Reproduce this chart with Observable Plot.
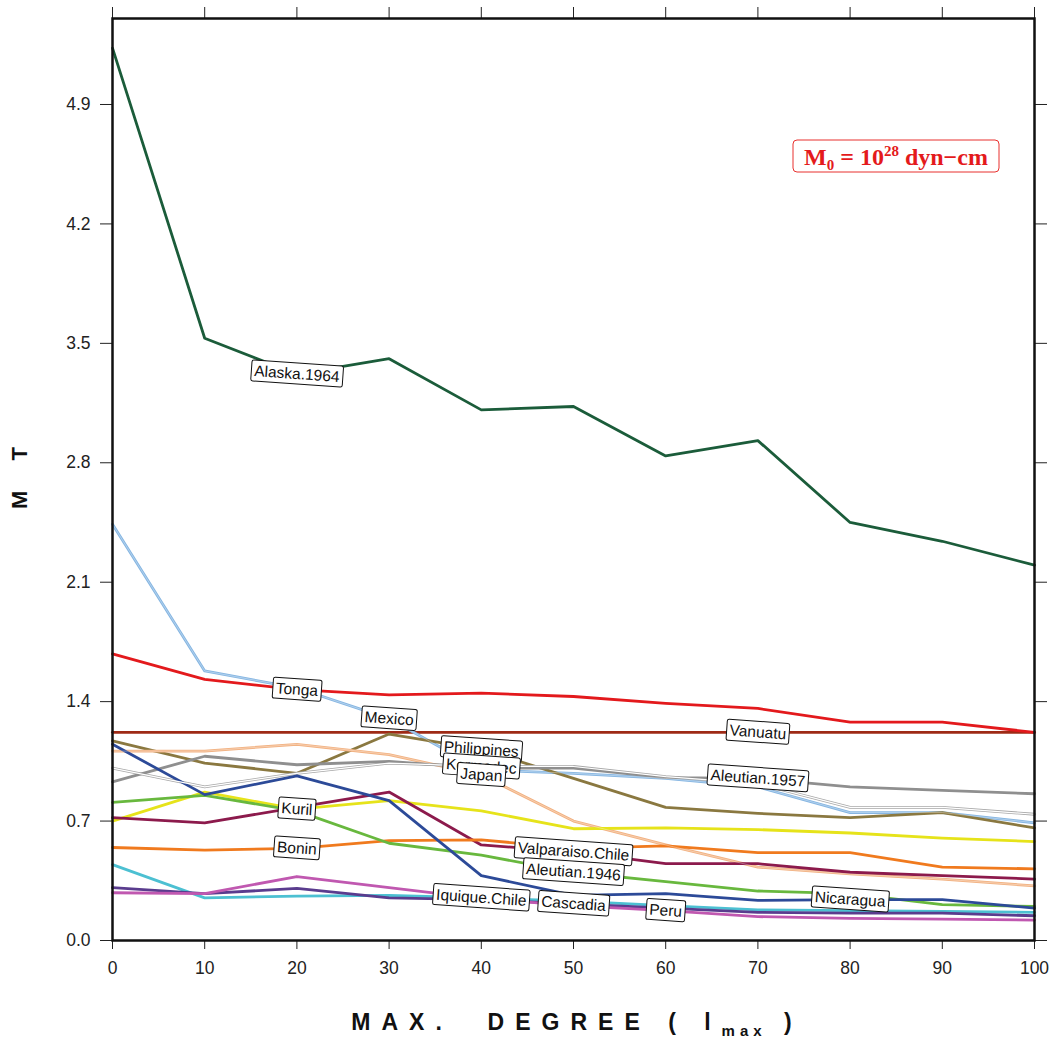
<!DOCTYPE html>
<html><head><meta charset="utf-8">
<script src="https://cdn.jsdelivr.net/npm/d3@7"></script>
<script src="https://cdn.jsdelivr.net/npm/@observablehq/plot@0.6"></script>
<style>
html,body{margin:0;padding:0;background:#fff;}
#chart{position:relative;width:1055px;height:1038px;}
</style></head><body><div id="chart"></div>
<script>
// ---- data ----
const degrees = [0, 10, 20, 30, 40, 50, 60, 70, 80, 90, 100];
const xTicks = [0, 10, 20, 30, 40, 50, 60, 70, 80, 90, 100];
const yTicks = [0.0, 0.7, 1.4, 2.1, 2.8, 3.5, 4.2, 4.9];

const alaska1964   = [5.23, 3.53, 3.32, 3.41, 3.11, 3.13, 2.84, 2.93, 2.45, 2.34, 2.20];
const mexico       = [2.44, 1.58, 1.48, 1.30, 1.00, 0.98, 0.95, 0.90, 0.75, 0.75, 0.69];
const tonga        = [1.68, 1.53, 1.47, 1.44, 1.45, 1.43, 1.39, 1.36, 1.28, 1.28, 1.22];
const vanuatu      = [1.22, 1.22, 1.22, 1.22, 1.22, 1.22, 1.22, 1.22, 1.22, 1.22, 1.22];
const philippines  = [1.17, 1.04, 0.98, 1.21, 1.12, 0.95, 0.78, 0.745, 0.72, 0.75, 0.66];
const kermadec     = [1.01, 0.90, 0.98, 1.04, 1.02, 1.02, 0.96, 0.92, 0.78, 0.78, 0.74];
const japan        = [1.11, 1.11, 1.15, 1.09, 0.97, 0.70, 0.56, 0.43, 0.39, 0.36, 0.32];
const aleutian1957 = [0.93, 1.08, 1.03, 1.05, 1.01, 1.01, 0.955, 0.95, 0.90, 0.88, 0.86];
const kuril        = [0.70, 0.87, 0.77, 0.82, 0.76, 0.655, 0.66, 0.65, 0.63, 0.60, 0.58];
const valparaiso   = [0.72, 0.69, 0.78, 0.87, 0.56, 0.52, 0.45, 0.45, 0.40, 0.38, 0.36];
const bonin        = [0.545, 0.53, 0.54, 0.585, 0.59, 0.54, 0.555, 0.515, 0.515, 0.43, 0.42];
const aleutian1946 = [0.81, 0.85, 0.76, 0.57, 0.50, 0.40, 0.345, 0.29, 0.275, 0.21, 0.20];
const iquique      = [0.445, 0.25, 0.26, 0.265, 0.25, 0.23, 0.205, 0.18, 0.175, 0.17, 0.165];
const cascadia     = [0.31, 0.275, 0.305, 0.25, 0.24, 0.215, 0.19, 0.165, 0.16, 0.16, 0.145];
const peru         = [0.28, 0.275, 0.375, 0.31, 0.245, 0.205, 0.175, 0.14, 0.13, 0.125, 0.12];
const nicaragua    = [1.15, 0.855, 0.965, 0.82, 0.38, 0.265, 0.275, 0.235, 0.24, 0.24, 0.19];

const seriesNames = ["Vanuatu", "Alaska.1964", "Tonga", "Mexico", "Philippines", "Kermadec", "Japan",
  "Aleutian.1957", "Kuril", "Valparaiso.Chile", "Bonin", "Aleutian.1946", "Iquique.Chile",
  "Cascadia", "Peru", "Nicaragua"];
const seriesColors = ["#9e2a16", "#1b5c3a", "#e3191c", "#86b6e2", "#8a7840", "#a8a8a8", "#f2b282",
  "#8f8f8f", "#e6e31a", "#8c1a4c", "#f07a1e", "#68b83e", "#4cc0d2",
  "#5a3c8e", "#c058b0", "#2c4a98"];
const seriesValues = {
  "Alaska.1964": alaska1964, "Mexico": mexico, "Tonga": tonga, "Vanuatu": vanuatu,
  "Philippines": philippines, "Kermadec": kermadec, "Japan": japan, "Aleutian.1957": aleutian1957,
  "Kuril": kuril, "Valparaiso.Chile": valparaiso, "Bonin": bonin, "Aleutian.1946": aleutian1946,
  "Iquique.Chile": iquique, "Cascadia": cascadia, "Peru": peru, "Nicaragua": nicaragua
};
// degree at which each series' label sits
const labelDegree = {
  "Alaska.1964": 20, "Tonga": 20, "Mexico": 30, "Philippines": 40, "Kermadec": 40, "Japan": 40,
  "Aleutian.1957": 70, "Vanuatu": 70, "Kuril": 20, "Bonin": 20, "Valparaiso.Chile": 50,
  "Aleutian.1946": 50, "Iquique.Chile": 40, "Cascadia": 50, "Peru": 60, "Nicaragua": 80
};

// ---- tables built from the arrays ----
const rows = seriesNames.flatMap(n => degrees.map((d, i) => ({name: n, degree: d, value: seriesValues[n][i]})));
const labelRows = seriesNames.map(n => {
  const d = labelDegree[n];
  return {name: n, degree: d, value: seriesValues[n][degrees.indexOf(d)]};
});

const W = 1055, H = 1038, mL = 112, mR = 21, mT = 18, mB = 98;

const plot = Plot.plot({
  width: W, height: H,
  marginLeft: mL, marginRight: mR, marginTop: mT, marginBottom: mB,
  style: {fontFamily: "'Liberation Sans', Arial, sans-serif", fontSize: "17.5px", color: "#222", background: "#fff"},
  x: {domain: [0, 100]},
  y: {domain: [0, 5.404]},
  color: {domain: seriesNames, range: seriesColors},
  marks: [
    Plot.axisX({ticks: xTicks, tickSize: 9, tickPadding: 12, label: null, tickFormat: d => String(d)}),
    Plot.axisX({anchor: "top", ticks: xTicks, tickSize: 12, label: null, tickFormat: () => ""}),
    Plot.axisY({ticks: yTicks, tickSize: 12, tickPadding: 10, label: null, tickFormat: d => d.toFixed(1)}),
    Plot.axisY({anchor: "right", ticks: yTicks, tickSize: 12, label: null, tickFormat: () => ""}),
    Plot.line(rows, {x: "degree", y: "value", z: "name", stroke: "name", strokeWidth: 2.8}),
    Plot.line(rows.filter(r => r.name === "Kermadec"), {x: "degree", y: "value", stroke: "#fff", strokeWidth: 1.2}),
    Plot.line(rows.filter(r => r.name === "Mexico" || r.name === "Japan"), {x: "degree", y: "value", z: "name", stroke: "#fff", strokeOpacity: 0.45, strokeWidth: 0.8}),
    Plot.frame({stroke: "#111", strokeWidth: 2.5}),
    Plot.text(labelRows, {x: "degree", y: "value", text: "name", rotate: 4, fontSize: 15.5,
      fill: "#111"})
  ]
});

document.getElementById("chart").appendChild(plot);

// boxes behind the line labels
const svg = d3.select(plot);
const nameSet = new Set(seriesNames);
svg.selectAll("text").filter(function() { return nameSet.has(this.textContent); }).each(function() {
  const bb = this.getBBox();
  const padX = 3, padY = 2;
  const r = document.createElementNS("http://www.w3.org/2000/svg", "rect");
  const t = this.getAttribute("transform");
  if (t) r.setAttribute("transform", t);
  r.setAttribute("x", bb.x - padX);
  r.setAttribute("y", bb.y - padY);
  r.setAttribute("width", bb.width + 2 * padX);
  r.setAttribute("height", bb.height + 2 * padY);
  r.setAttribute("rx", 2);
  r.setAttribute("fill", "#fff");
  r.setAttribute("stroke", "#111");
  r.setAttribute("stroke-width", 1);
  this.parentNode.insertBefore(r, this);
});

// y-axis title
svg.append("text")
  .attr("transform", `translate(27,${mT + (H - mT - mB) / 2 - 4}) rotate(-90)`)
  .attr("text-anchor", "middle")
  .style("white-space", "pre")
  .attr("font-family", "'Liberation Sans', Arial, sans-serif")
  .attr("font-weight", "bold").attr("font-size", 22).attr("fill", "#111")
  .attr("letter-spacing", 6)
  .text("M  T");

// x-axis title
const xt = svg.append("text")
  .attr("x", 577).attr("y", 1030)
  .attr("text-anchor", "middle")
  .style("white-space", "pre")
  .attr("font-family", "'Liberation Sans', Arial, sans-serif")
  .attr("font-weight", "bold").attr("font-size", 23).attr("fill", "#111")
  .attr("letter-spacing", 11);
xt.append("tspan").text("MAX.  DEGREE ( l");
xt.append("tspan").attr("font-size", 15).attr("dy", 6).attr("letter-spacing", 5).text("max");
xt.append("tspan").attr("dy", -6).text(" )");

// moment legend box
const lg = svg.append("g");
lg.append("rect").attr("x", 793).attr("y", 140).attr("width", 206).attr("height", 32).attr("rx", 4)
  .attr("fill", "#fff").attr("stroke", "#e8302e").attr("stroke-width", 1);
const lt = lg.append("text").attr("x", 896).attr("y", 165).attr("text-anchor", "middle")
  .attr("font-family", "'Liberation Serif', 'Times New Roman', serif")
  .attr("font-weight", "bold").attr("font-size", 24).attr("fill", "#e41a1c");
lt.append("tspan").text("M");
lt.append("tspan").attr("font-size", 15).attr("dy", 5).text("0");
lt.append("tspan").attr("dy", -5).text(" = 10");
lt.append("tspan").attr("font-size", 15).attr("dy", -9).text("28");
lt.append("tspan").attr("dy", 9).text(" dyn\u2212cm");
</script>
</body></html>
